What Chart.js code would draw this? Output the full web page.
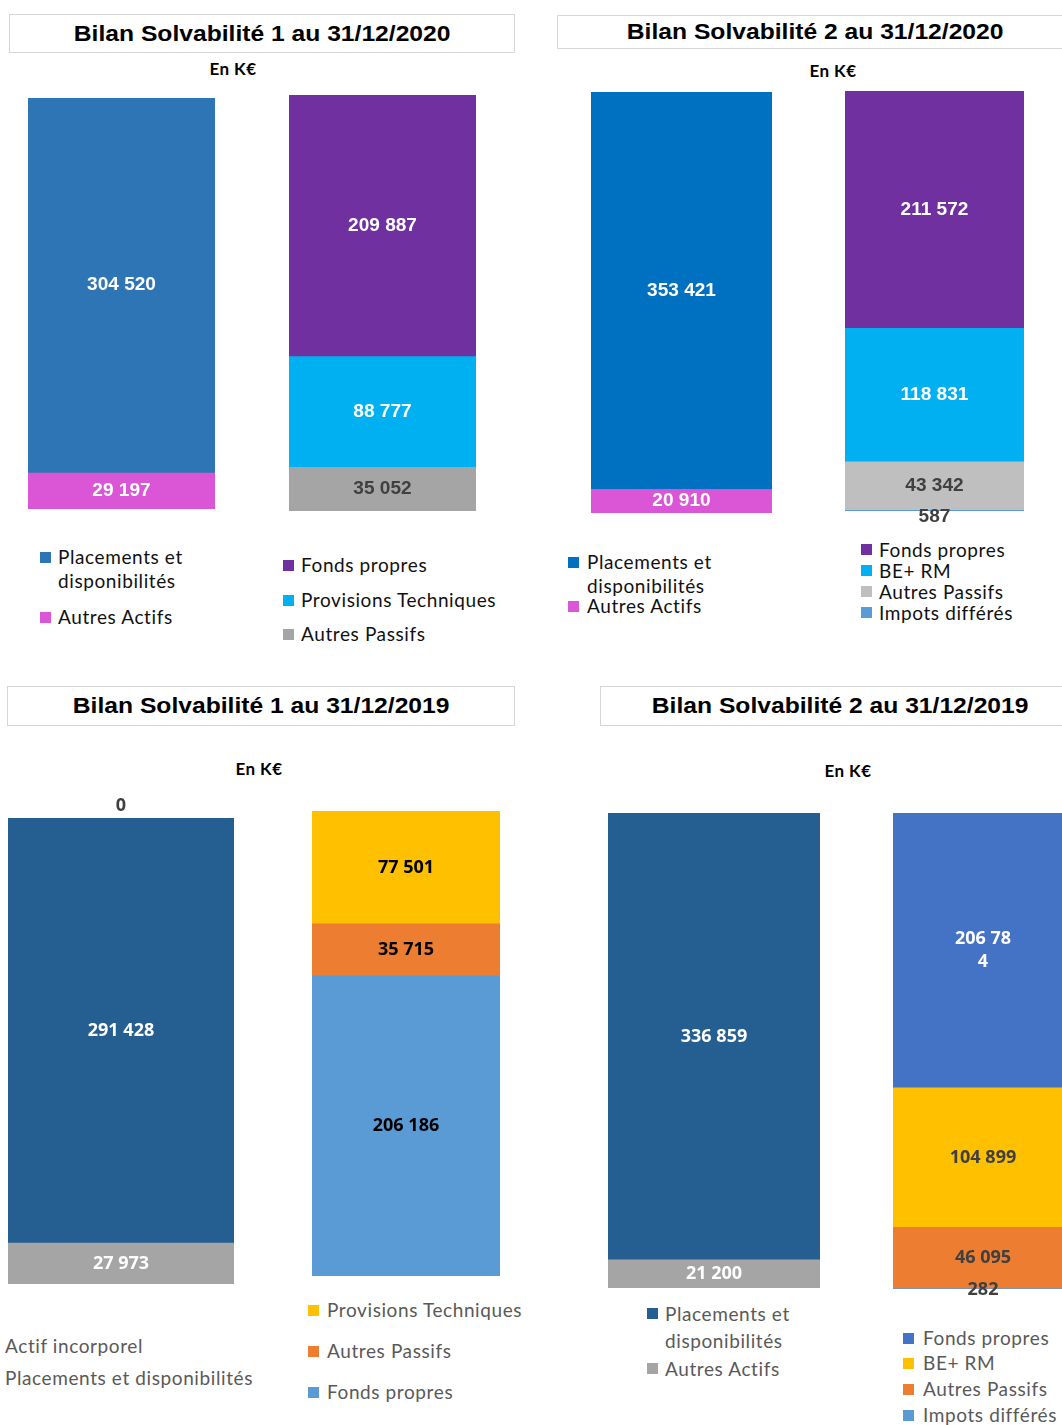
<!DOCTYPE html>
<html lang="fr">
<head>
<meta charset="utf-8">
<title>Bilans Solvabilité 1 et 2</title>
<script src="https://cdn.jsdelivr.net/npm/chart.js@4.4.1/dist/chart.umd.min.js"></script>
<style>
  html, body { margin: 0; padding: 0; background: #fff; }
  #page { position: relative; width: 1062px; height: 1425px; overflow: hidden; font-family: Lato, 'Open Sans', sans-serif; }
  .title { position: absolute; box-sizing: border-box; border: 1px solid #d6d6d6; display: flex; align-items: center; justify-content: center; white-space: nowrap; }
  .title span { display: inline-block; font: bold 22px 'Liberation Sans', Arial, sans-serif; color: #000; transform: scaleX(1.12); }
  .unit { position: absolute; transform: translate(-50%, -50%); font: bold 17px Lato, sans-serif; letter-spacing: 0.4px; color: #000; white-space: nowrap; }
  .bar { position: absolute; }
  .leg { position: absolute; font-size: 19px; line-height: 24px; letter-spacing: 0.6px; white-space: normal; }
  .leg .sq { position: absolute; width: 11px; height: 11px; }
</style>
</head>
<body>
<div id="page"></div>
<script>
// --- Data (K€) ---

// Bilan Solvabilité 1 au 31/12/2020
const s1_2020_actifLabels = ['Placements et disponibilités', 'Autres Actifs'];
const s1_2020_actifValues = [304520, 29197];
const s1_2020_passifLabels = ['Fonds propres', 'Provisions Techniques', 'Autres Passifs'];
const s1_2020_passifValues = [209887, 88777, 35052];

// Bilan Solvabilité 2 au 31/12/2020
const s2_2020_actifLabels = ['Placements et disponibilités', 'Autres Actifs'];
const s2_2020_actifValues = [353421, 20910];
const s2_2020_passifLabels = ['Fonds propres', 'BE+ RM', 'Autres Passifs', 'Impots différés'];
const s2_2020_passifValues = [211572, 118831, 43342, 587];

// Bilan Solvabilité 1 au 31/12/2019
const s1_2019_actifLabels = ['Actif incorporel', 'Placements et disponibilités', 'Autres Actifs'];
const s1_2019_actifValues = [0, 291428, 27973];
const s1_2019_passifLabels = ['Provisions Techniques', 'Autres Passifs', 'Fonds propres'];
const s1_2019_passifValues = [77501, 35715, 206186];

// Bilan Solvabilité 2 au 31/12/2019
const s2_2019_actifLabels = ['Placements et disponibilités', 'Autres Actifs'];
const s2_2019_actifValues = [336859, 21200];
const s2_2019_passifLabels = ['Fonds propres', 'BE+ RM', 'Autres Passifs', 'Impots différés'];
const s2_2019_passifValues = [206784, 104899, 46095, 282];

// --- Colours (listed top of stack first, like the legends) ---
const WHITE = '#ffffff', DARK = '#404040', BLACK = '#000000';

const page = document.getElementById('page');

// Thousands separated by a plain space, e.g. 304 520
function formatK(v) {
    return String(v).replace(/\B(?=(\d{3})+(?!\d))/g, ' ');
}

function wrapChars(ctx, text, maxWidth) {
    const lines = [];
    let line = '';
    for (const ch of text) {
        if (line && ctx.measureText(line + ch).width > maxWidth) {
            lines.push(line);
            line = ch;
        } else {
            line += ch;
        }
    }
    lines.push(line);
    return lines;
}

// Draws the value of every segment: centred, or above/below for tiny ones
const segmentLabels = {
    id: 'segmentLabels',
    afterDatasetsDraw(chart, args, opts) {
        const ctx = chart.ctx;
        ctx.save();
        ctx.font = opts.font;
        ctx.textAlign = 'center';
        ctx.textBaseline = 'middle';
        chart.data.datasets.forEach((ds, i) => {
            const meta = chart.getDatasetMeta(i);
            meta.data.forEach((bar, j) => {
                const text = formatK(ds.data[j]);
                let y = (bar.y + bar.base) / 2;
                if (ds.labelPos === 'above') y = Math.min(bar.y, bar.base) - opts.aboveOffset;
                if (ds.labelPos === 'below') y = Math.max(bar.y, bar.base) + opts.belowOffset;
                // Excel squeezed this one label into a narrow box
                const lines = ds.labelPos === 'wrap' ? wrapChars(ctx, text, opts.wrap) : [text];
                const y0 = y - (lines.length - 1) * opts.lineHeight / 2;
                ctx.fillStyle = ds.labelColor;
                lines.forEach((ln, k) => {
                    ctx.save();
                    ctx.translate(bar.x, y0 + k * opts.lineHeight);
                    ctx.scale(opts.stretch, 1);
                    ctx.fillText(ln, 0, 0);
                    ctx.restore();
                });
            });
        });
        ctx.restore();
    }
};

function stackChart(box, labels, values, colors, textColors, labelOpts, positions) {
    const padTop = box.padTop || 0, padBottom = box.padBottom || 0;
    const wrap = document.createElement('div');
    wrap.className = 'bar';
    wrap.style.left = box.left + 'px';
    wrap.style.top = (box.top - padTop) + 'px';
    wrap.style.width = box.width + 'px';
    wrap.style.height = (box.height + padTop + padBottom) + 'px';
    const canvas = document.createElement('canvas');
    wrap.appendChild(canvas);
    page.appendChild(wrap);

    // first dataset sits at the bottom of the stack, so build them reversed
    const datasets = [];
    for (let i = labels.length - 1; i >= 0; i--) {
        datasets.push({
            label: labels[i],
            data: [values[i]],
            backgroundColor: colors[i],
            borderWidth: 0,
            labelColor: textColors[i],
            labelPos: positions ? positions[i] : 'center'
        });
    }
    const total = values.reduce((a, b) => a + b, 0);

    return new Chart(canvas.getContext('2d'), {
        type: 'bar',
        data: { labels: [''], datasets },
        options: {
            responsive: true,
            maintainAspectRatio: false,
            animation: false,
            layout: { padding: { top: padTop, bottom: padBottom, left: 0, right: 0 } },
            datasets: { bar: { barPercentage: 1, categoryPercentage: 1 } },
            scales: {
                x: { stacked: true, display: false },
                y: { stacked: true, display: false, min: 0, max: total }
            },
            plugins: {
                legend: { display: false },
                tooltip: { enabled: false },
                segmentLabels: Object.assign({ aboveOffset: 12, belowOffset: 6, lineHeight: 23, stretch: 1.1, wrap: 62 }, labelOpts)
            }
        },
        plugins: [segmentLabels]
    });
}

function addTitle(text, left, top, width, height) {
    const d = document.createElement('div');
    d.className = 'title';
    Object.assign(d.style, { left: left + 'px', top: top + 'px', width: width + 'px', height: height + 'px' });
    const s = document.createElement('span');
    s.textContent = text;
    d.appendChild(s);
    page.appendChild(d);
}

function addUnit(x, y) {
    const d = document.createElement('div');
    d.className = 'unit';
    d.textContent = 'En K€';
    d.style.left = x + 'px';
    d.style.top = y + 'px';
    page.appendChild(d);
}

// items: [label, colour or null, y of first line centre]
function addLegend(items, textX, opts) {
    items.forEach(([label, color, y]) => {
        const d = document.createElement('div');
        d.className = 'leg';
        d.style.left = textX + 'px';
        d.style.top = (y - opts.lineHeight / 2) + 'px';
        d.style.lineHeight = opts.lineHeight + 'px';
        d.style.color = opts.color;
        if (opts.maxWidth) d.style.width = opts.maxWidth + 'px';
        else d.style.whiteSpace = 'nowrap';
        d.textContent = label;
        if (color) {
            const sq = document.createElement('span');
            sq.className = 'sq';
            sq.style.background = color;
            sq.style.left = (-opts.gap) + 'px';
            sq.style.top = (opts.lineHeight / 2 - 5.5) + 'px';
            d.appendChild(sq);
        }
        page.appendChild(d);
    });
}

const arialLabel = { font: 'bold 18px "Liberation Sans", Arial, sans-serif', stretch: 1.06 };
const calibriLabel = { font: 'bold 18px "Open Sans", Lato, sans-serif', stretch: 1.0 };

// ---------- Bilan S1 2020 ----------
addTitle('Bilan Solvabilité 1 au 31/12/2020', 9, 14, 506, 39);
addUnit(233, 68);
const s1a20Colors = ['#2E75B6', '#DA56D6'];
const s1p20Colors = ['#7030A0', '#00B0F0', '#A5A5A5'];
stackChart({ left: 28, top: 98, width: 187, height: 411 },
    s1_2020_actifLabels, s1_2020_actifValues, s1a20Colors, [WHITE, WHITE], arialLabel);
stackChart({ left: 289, top: 95, width: 187, height: 416 },
    s1_2020_passifLabels, s1_2020_passifValues, s1p20Colors, [WHITE, WHITE, DARK], arialLabel);
addLegend([[s1_2020_actifLabels[0], s1a20Colors[0], 557], [s1_2020_actifLabels[1], s1a20Colors[1], 617]],
    58, { lineHeight: 24, gap: 18, color: '#111', maxWidth: 160 });
addLegend([[s1_2020_passifLabels[0], s1p20Colors[0], 565], [s1_2020_passifLabels[1], s1p20Colors[1], 600],
    [s1_2020_passifLabels[2], s1p20Colors[2], 634]], 301, { lineHeight: 24, gap: 18, color: '#111' });

// ---------- Bilan S2 2020 ----------
addTitle('Bilan Solvabilité 2 au 31/12/2020', 557, 15, 516, 34);
addUnit(833, 70);
const s2a20Colors = ['#0070C0', '#DA56D6'];
const s2p20Colors = ['#7030A0', '#00B0F0', '#BFBFBF', '#5B9BD5'];
stackChart({ left: 591, top: 92, width: 181, height: 421 },
    s2_2020_actifLabels, s2_2020_actifValues, s2a20Colors, [WHITE, WHITE], arialLabel);
stackChart({ left: 845, top: 91, width: 179, height: 420, padBottom: 18 },
    s2_2020_passifLabels, s2_2020_passifValues, s2p20Colors, [WHITE, WHITE, DARK, DARK], arialLabel,
    ['center', 'center', 'center', 'below']);
addLegend([[s2_2020_actifLabels[0], s2a20Colors[0], 562], [s2_2020_actifLabels[1], s2a20Colors[1], 606]],
    587, { lineHeight: 24, gap: 19, color: '#111', maxWidth: 160 });
addLegend([[s2_2020_passifLabels[0], s2p20Colors[0], 549], [s2_2020_passifLabels[1], s2p20Colors[1], 570],
    [s2_2020_passifLabels[2], s2p20Colors[2], 591], [s2_2020_passifLabels[3], s2p20Colors[3], 612]],
    879, { lineHeight: 21, gap: 18, color: '#111' });

// ---------- Bilan S1 2019 ----------
addTitle('Bilan Solvabilité 1 au 31/12/2019', 7, 686, 508, 40);
addUnit(259, 768);
const s1a19Colors = ['#255E91', '#255E91', '#A5A5A5'];
const s1p19Colors = ['#FFC000', '#ED7D31', '#5B9BD5'];
stackChart({ left: 8, top: 818, width: 226, height: 466, padTop: 26 },
    s1_2019_actifLabels, s1_2019_actifValues, s1a19Colors, [DARK, WHITE, WHITE], calibriLabel,
    ['above', 'center', 'center']);
stackChart({ left: 312, top: 811, width: 188, height: 465 },
    s1_2019_passifLabels, s1_2019_passifValues, s1p19Colors, [BLACK, BLACK, BLACK], calibriLabel);
addLegend([[s1_2019_actifLabels[0], null, 1346], [s1_2019_actifLabels[1], null, 1378]],
    5, { lineHeight: 26, gap: 0, color: '#595959' });
addLegend([[s1_2019_passifLabels[0], s1p19Colors[0], 1310], [s1_2019_passifLabels[1], s1p19Colors[1], 1351],
    [s1_2019_passifLabels[2], s1p19Colors[2], 1392]], 327, { lineHeight: 26, gap: 19, color: '#595959' });

// ---------- Bilan S2 2019 ----------
addTitle('Bilan Solvabilité 2 au 31/12/2019', 600, 686, 480, 40);
addUnit(848, 770);
const s2a19Colors = ['#255E91', '#A5A5A5'];
const s2p19Colors = ['#4472C4', '#FFC000', '#ED7D31', '#5B9BD5'];
stackChart({ left: 608, top: 813, width: 212, height: 475 },
    s2_2019_actifLabels, s2_2019_actifValues, s2a19Colors, [WHITE, WHITE], calibriLabel);
stackChart({ left: 893, top: 813, width: 180, height: 476, padBottom: 16 },
    s2_2019_passifLabels, s2_2019_passifValues, s2p19Colors, [WHITE, DARK, DARK, DARK],
    Object.assign({}, calibriLabel, { wrap: 58, belowOffset: 1 }),
    ['wrap', 'center', 'center', 'below']);
addLegend([[s2_2019_actifLabels[0], s2a19Colors[0], 1313], [s2_2019_actifLabels[1], s2a19Colors[1], 1368]],
    665, { lineHeight: 27, gap: 18, color: '#595959', maxWidth: 160 });
addLegend([[s2_2019_passifLabels[0], s2p19Colors[0], 1338], [s2_2019_passifLabels[1], s2p19Colors[1], 1363],
    [s2_2019_passifLabels[2], s2p19Colors[2], 1389], [s2_2019_passifLabels[3], s2p19Colors[3], 1415]],
    923, { lineHeight: 26, gap: 20, color: '#595959' });
</script>
</body>
</html>
